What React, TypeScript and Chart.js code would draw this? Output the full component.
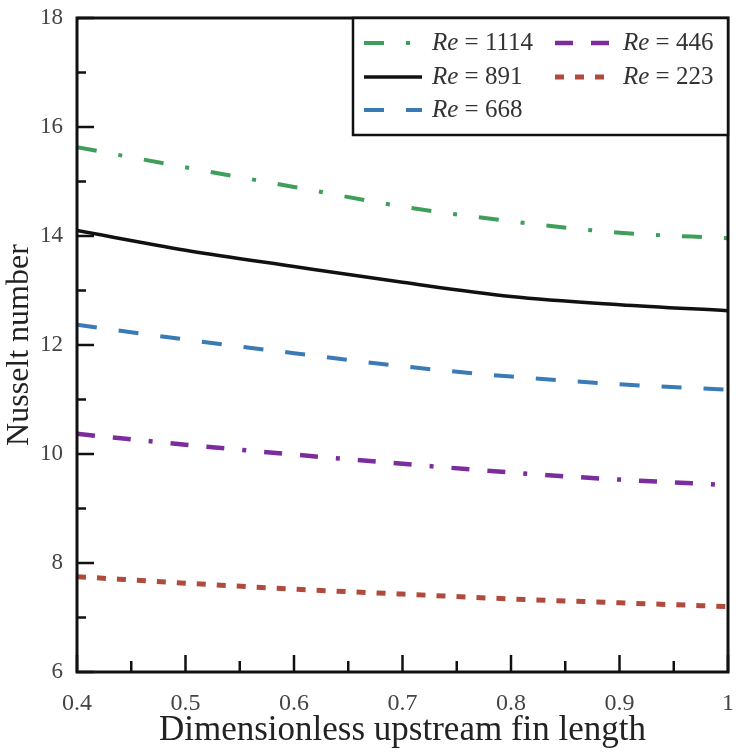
import React, { useEffect, useRef } from "react";
import { Chart, registerables } from "chart.js";

Chart.register(...registerables);

// ---- data ----
const xValues = [0.4, 0.5, 0.6, 0.7, 0.8, 0.9, 1.0];
const re1114 = [15.63, 15.26, 14.9, 14.54, 14.27, 14.06, 13.96];
const re891 = [14.1, 13.74, 13.44, 13.15, 12.89, 12.74, 12.63];
const re668 = [12.37, 12.1, 11.85, 11.61, 11.42, 11.28, 11.18];
const re446 = [10.37, 10.17, 9.99, 9.82, 9.66, 9.53, 9.43];
const re223 = [7.75, 7.63, 7.52, 7.43, 7.34, 7.27, 7.2];
const reLabels = ["1114", "891", "668", "446", "223"];
const xTitle = "Dimensionless upstream fin length";
const yTitle = "Nusselt number";

const SERIF = '"Liberation Serif", "Times New Roman", serif';

const toPoints = (ys: number[]) => xValues.map((x, i) => ({ x, y: ys[i] }));

const isMajorX = (v: number) => Math.abs(v * 10 - Math.round(v * 10)) < 1e-6;

const framePlugin = {
  id: "frameTicks",
  afterDatasetsDraw(chart: any) {
    const { ctx, chartArea, scales } = chart;
    const { left, right, top, bottom } = chartArea;
    const x = scales.x;
    const y = scales.y;
    ctx.save();
    ctx.strokeStyle = "#111";
    ctx.lineWidth = 3;
    ctx.strokeRect(left, top, right - left, bottom - top);
    ctx.lineWidth = 2.5;
    x.ticks.forEach((t: any) => {
      const px = x.getPixelForValue(t.value);
      const len = isMajorX(t.value) ? 17 : 11;
      ctx.beginPath();
      ctx.moveTo(px, bottom);
      ctx.lineTo(px, bottom - len);
      ctx.stroke();
    });
    y.ticks.forEach((t: any) => {
      const py = y.getPixelForValue(t.value);
      const len = Math.round(t.value) % 2 === 0 ? 17 : 9;
      ctx.beginPath();
      ctx.moveTo(left, py);
      ctx.lineTo(left + len, py);
      ctx.stroke();
    });
    ctx.restore();
  },
};

const legendPlugin = {
  id: "reLegend",
  afterDraw(chart: any) {
    const { ctx, chartArea } = chart;
    const boxLeft = 353;
    const boxRight = chartArea.right;
    const boxTop = chartArea.top;
    const boxBottom = 135;
    ctx.save();
    ctx.fillStyle = "#fff";
    ctx.fillRect(boxLeft, boxTop, boxRight - boxLeft, boxBottom - boxTop);
    ctx.strokeStyle = "#111";
    ctx.lineWidth = 2.5;
    ctx.strokeRect(boxLeft, boxTop, boxRight - boxLeft, boxBottom - boxTop);
    const colX = [364, 555];
    const rowY = [43, 77, 110];
    chart.data.datasets.forEach((ds: any, i: number) => {
      const col = Math.floor(i / 3);
      const row = i % 3;
      const sx = colX[col];
      const sy = rowY[row];
      ctx.save();
      ctx.strokeStyle = ds.borderColor;
      ctx.lineWidth = ds.borderWidth;
      ctx.setLineDash(ds.borderDash || []);
      ctx.beginPath();
      ctx.moveTo(sx, sy);
      ctx.lineTo(sx + 58, sy);
      ctx.stroke();
      ctx.restore();
      ctx.fillStyle = "#333";
      ctx.textBaseline = "middle";
      ctx.textAlign = "left";
      ctx.font = `italic 25px ${SERIF}`;
      const tx = sx + 68;
      ctx.fillText("Re", tx, sy);
      const w = ctx.measureText("Re").width;
      ctx.font = `25px ${SERIF}`;
      ctx.fillText(" = " + ds.label, tx + w, sy);
    });
    ctx.restore();
  },
};

export default function App() {
  const canvasRef = useRef<HTMLCanvasElement | null>(null);

  useEffect(() => {
    if (!canvasRef.current) return;
    const chart = new Chart(canvasRef.current, {
      type: "line",
      data: {
        datasets: [
          {
            label: reLabels[0],
            data: toPoints(re1114),
            borderColor: "#3f9f5a",
            borderWidth: 4,
            borderDash: [20, 22, 4, 22],
          },
          {
            label: reLabels[1],
            data: toPoints(re891),
            borderColor: "#111111",
            borderWidth: 3.5,
            borderDash: [],
          },
          {
            label: reLabels[2],
            data: toPoints(re668),
            borderColor: "#3a7ab5",
            borderWidth: 4,
            borderDash: [20, 22],
          },
          {
            label: reLabels[3],
            data: toPoints(re446),
            borderColor: "#7b2d9e",
            borderWidth: 4.5,
            borderDash: [18, 18, 18, 18, 4, 18],
          },
          {
            label: reLabels[4],
            data: toPoints(re223),
            borderColor: "#b04a3c",
            borderWidth: 5,
            borderDash: [9, 11],
          },
        ] as any,
      },
      options: {
        animation: false,
        responsive: false,
        layout: { padding: { top: 18, right: 10, left: 0, bottom: 0 } },
        elements: {
          point: { radius: 0 },
          line: { tension: 0.4, cubicInterpolationMode: "monotone", fill: false },
        },
        plugins: {
          legend: { display: false },
          tooltip: { enabled: false },
        },
        scales: {
          x: {
            type: "linear",
            min: 0.4,
            max: 1,
            grid: { display: false, drawTicks: false },
            border: { display: false },
            afterFit: (s: any) => {
              s.height = 81;
              s.paddingLeft = 0;
              s.paddingRight = 0;
            },
            ticks: {
              stepSize: 0.05,
              autoSkip: false,
              maxRotation: 0,
              padding: 17,
              color: "#444",
              font: { family: SERIF, size: 24 },
              callback: (v: any) => {
                const n = Number(v);
                if (!isMajorX(n)) return "";
                return Math.abs(n - 1) < 1e-6 ? "1" : n.toFixed(1);
              },
            },
            title: {
              display: true,
              text: xTitle,
              color: "#222",
              font: { family: SERIF, size: 35 },
              padding: { top: 0, bottom: 1 },
            },
          },
          y: {
            type: "linear",
            min: 6,
            max: 18,
            grid: { display: false, drawTicks: false },
            border: { display: false },
            afterFit: (s: any) => {
              s.width = 77;
              s.paddingTop = 0;
              s.paddingBottom = 0;
            },
            ticks: {
              stepSize: 1,
              autoSkip: false,
              padding: 14,
              color: "#444",
              font: { family: SERIF, size: 23 },
              callback: (v: any) => {
                const n = Math.round(Number(v));
                return n % 2 === 0 ? String(n) : "";
              },
            },
            title: {
              display: true,
              text: yTitle,
              color: "#222",
              font: { family: SERIF, size: 32 },
              padding: { top: 0, bottom: 0 },
            },
          },
        },
      } as any,
      plugins: [framePlugin, legendPlugin],
    });
    return () => chart.destroy();
  }, []);

  return (
    <div style={{ position: "fixed", left: 0, top: 0, width: 738, height: 753, background: "#fff" }}>
      <canvas ref={canvasRef} width={738} height={753} style={{ width: 738, height: 753 }} />
    </div>
  );
}
